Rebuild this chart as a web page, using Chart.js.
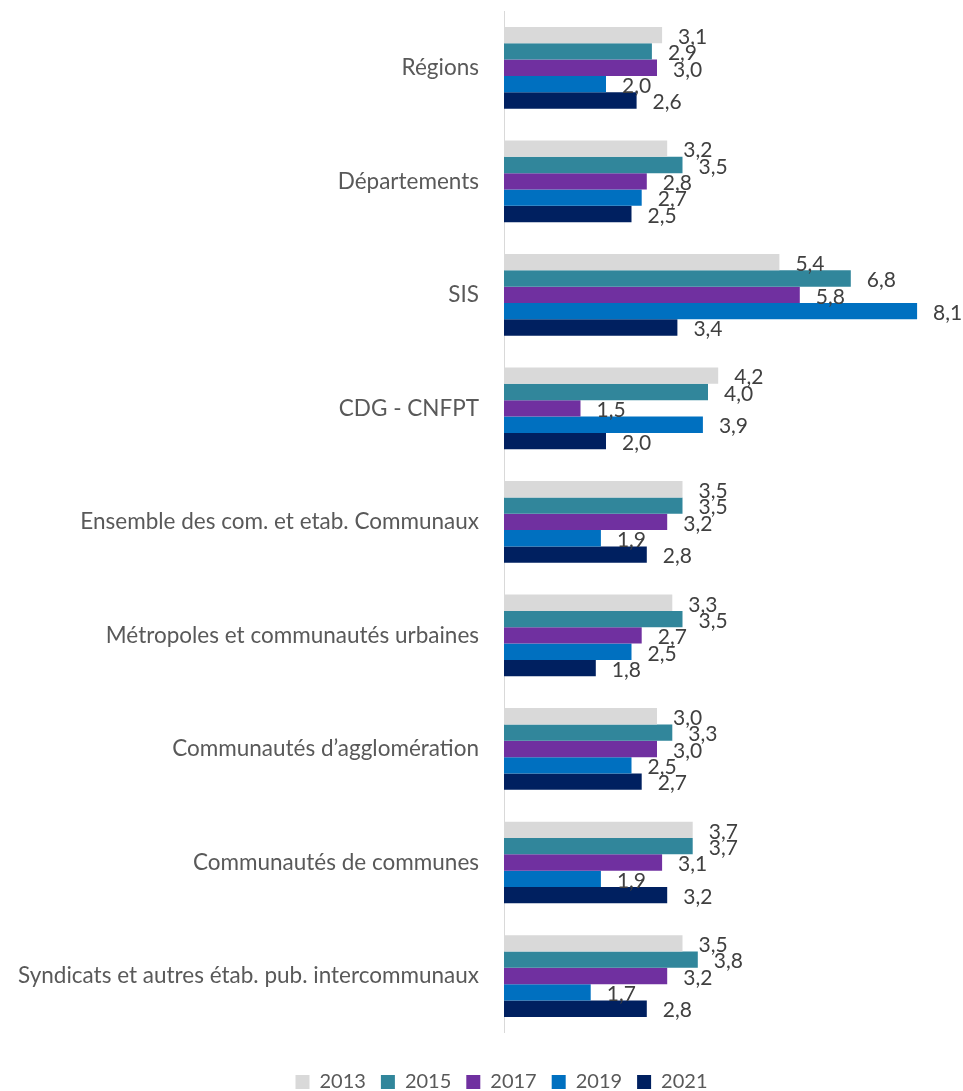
<!DOCTYPE html>
<html><head><meta charset="utf-8">
<script src="https://cdn.jsdelivr.net/npm/chart.js@4/dist/chart.umd.min.js"></script>
<style>html,body{margin:0;padding:0;background:#fff}</style>
</head><body>
<canvas id="c" width="963" height="1091"></canvas>
<script>
const categories = ["Régions","Départements","SIS","CDG - CNFPT","Ensemble des com. et etab. Communaux","Métropoles et communautés urbaines","Communautés d’agglomération","Communautés de communes","Syndicats et autres étab. pub. intercommunaux"];
const years = ["2013","2015","2017","2019","2021"];
const v2013 = [3.1,3.2,5.4,4.2,3.5,3.3,3.0,3.7,3.5];
const v2015 = [2.9,3.5,6.8,4.0,3.5,3.5,3.3,3.7,3.8];
const v2017 = [3.0,2.8,5.8,1.5,3.2,2.7,3.0,3.1,3.2];
const v2019 = [2.0,2.7,8.1,3.9,1.9,2.5,2.5,1.9,1.7];
const v2021 = [2.6,2.5,3.4,2.0,2.8,1.8,2.7,3.2,2.8];
const colors = ["#d9d9d9","#31869b","#7030a0","#0070c0","#002060"];
const series = [v2013,v2015,v2017,v2019,v2021];
const FONT = "Lato";

const labelPlugin = {
  id:'barLabels',
  afterLayout(chart){
    if (chart.legend) { chart.legend.left += 40; }
  },
  afterDatasetsDraw(chart){
    const ctx = chart.ctx;
    ctx.save();
    ctx.font = "21px " + FONT;
    ctx.fillStyle = "#404040";
    ctx.textAlign = "left";
    ctx.textBaseline = "middle";
    chart.data.datasets.forEach((ds,i)=>{
      const meta = chart.getDatasetMeta(i);
      meta.data.forEach((el,j)=>{
        const t = ds.data[j].toFixed(1).replace('.',',');
        ctx.fillText(t, el.x + 16, el.y + 2);
      });
    });
    ctx.restore();
  }
};

new Chart(document.getElementById('c'), {
  type:'bar',
  data:{
    labels: categories,
    datasets: years.map((y,i)=>({label:y, data:series[i], backgroundColor:colors[i], borderWidth:0, barPercentage:1, categoryPercentage:0.72}))
  },
  options:{
    indexAxis:'y',
    responsive:false,
    animation:false,
    layout:{padding:{top:11,left:0,right:0,bottom:-11}},
    scales:{
      x:{display:false,min:0,max:9},
      y:{
        grid:{display:false,drawTicks:true,tickLength:25},
        border:{display:true,color:'#d9d9d9',width:1},
        ticks:{padding:0,color:'#595959',font:{family:FONT,size:22.5,lineHeight:0.05}},
        afterFit(s){s.width=504;}
      }
    },
    plugins:{
      legend:{position:'bottom',
        title:{display:true,text:'',padding:{top:0,bottom:23},font:{size:1}},
        labels:{boxWidth:14,boxHeight:14,padding:15,color:'#595959',font:{family:FONT,size:20}}},
      tooltip:{enabled:false}
    }
  },
  plugins:[labelPlugin]
});
</script>
</body></html>
